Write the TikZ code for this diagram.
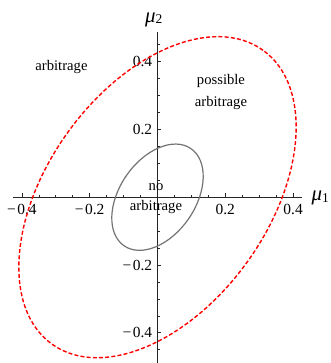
\documentclass[tikz,border=0pt]{standalone}
\usepackage{fontspec}
\setmainfont{Liberation Serif}
\begin{document}
\begin{tikzpicture}[x=339bp,y=339bp,
  axisline/.style={draw=black!85,line width=0.8bp},
  majtick/.style={draw=black!85,line width=0.7bp},
  mintick/.style={draw=black!85,line width=0.6bp},
  ticklab/.style={inner sep=0pt,font=\fontsize{15.5}{15.5}\selectfont},
  regionlab/.style={inner sep=0pt,anchor=base,font=\fontsize{14.7}{17}\selectfont},
  axislab/.style={inner sep=0pt,anchor=base west,font=\fontsize{21}{21}\selectfont\itshape},
  bigell/.style={draw=red,line width=1.4bp,dash pattern=on 4bp off 2.2bp},
  smallell/.style={draw=black!55,line width=1.2bp}]
\useasboundingbox (-0.46460,-0.48909) rectangle (0.51180,0.58171);
% axes
\coordinate (xl) at (-0.427,0);
\coordinate (xr) at (0.427,0);
\coordinate (yb) at (0,-0.489);
\coordinate (yt) at (0,0.487);
\draw[axisline] (xl) -- (xr);
\draw[axisline] (yb) -- (yt);
% ticks
\foreach \v in {-0.4,-0.2,0.2,0.4}{
  \draw[majtick] (\v,0) -- (\v,0.0118);
  \draw[majtick] (0,\v) -- (0.0118,\v);
}
\foreach \v in {-0.35,-0.3,-0.25,-0.15,-0.1,-0.05,0.05,0.1,0.15,0.25,0.3,0.35}{
  \draw[mintick] (\v,0) -- (\v,0.0074);
  \draw[mintick] (0,\v) -- (0.0074,\v);
}
\foreach \v in {-0.45,0.45}{
  \draw[mintick] (0,\v) -- (0.0074,\v);
}
% tick labels
\node[ticklab,anchor=base] (tx1) at (-0.4,-0.0496) {−\kern1.5bp0.4};
\node[ticklab,anchor=base] (tx2) at (-0.2,-0.0496) {−\kern1.5bp0.2};
\node[ticklab,anchor=base] (tx3) at (0.2,-0.0496) {0.2};
\node[ticklab,anchor=base] (tx4) at (0.4,-0.0496) {0.4};
\node[ticklab,anchor=east] (ty1) at (-0.0153,-0.4) {−\kern1.5bp0.4};
\node[ticklab,anchor=east] (ty2) at (-0.0153,-0.2) {−\kern1.5bp0.2};
\node[ticklab,anchor=east] (ty3) at (-0.0153,0.2) {0.2};
\node[ticklab,anchor=east] (ty4) at (-0.0153,0.4) {0.4};
% axis labels
\node[axislab] (mu1) at (0.4543,-0.0112) {μ\raisebox{-1.5bp}{\upshape\fontsize{13.5}{13.5}\selectfont 1}};
\node[axislab] (mu2) at (-0.0369,0.5168) {μ\raisebox{-1.5bp}{\upshape\fontsize{13.5}{13.5}\selectfont 2}};
% ellipses
\draw[bigell,rotate=54.3] (0,0) ellipse [x radius=0.5337,y radius=0.3265];
\draw[smallell,rotate=55.5] (0,0) ellipse [x radius=0.174,y radius=0.1117];
% region labels
\node[regionlab] (arb) at (-0.2832,0.3723) {arbitrage};
\node[regionlab] (pos1) at (0.1873,0.331) {possible};
\node[regionlab] (pos2) at (0.1873,0.2676) {arbitrage};
\node[regionlab] (no1) at (-0.0044,0.0212) {no};
\node[regionlab] (no2) at (-0.0044,-0.0378) {arbitrage};
\end{tikzpicture}
\end{document}
